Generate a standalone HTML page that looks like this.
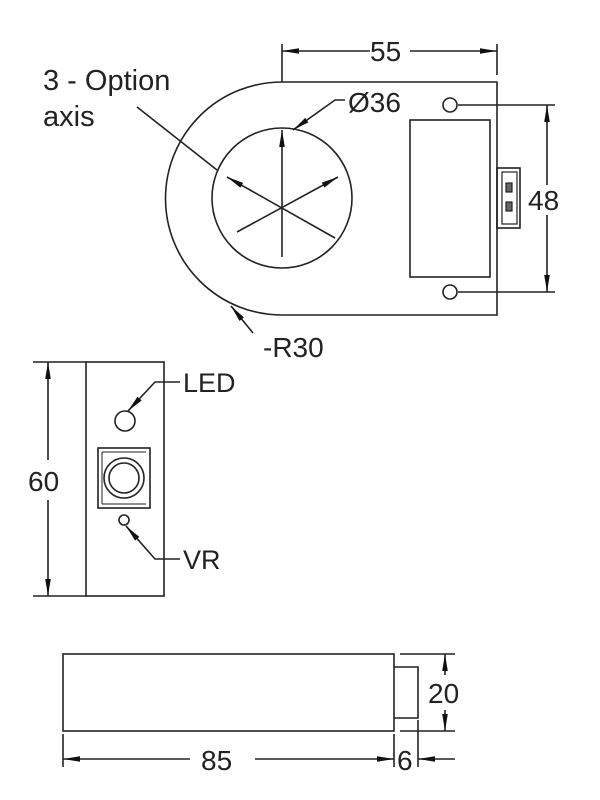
<!DOCTYPE html>
<html><head><meta charset="utf-8"><style>
html,body{margin:0;padding:0;background:#fff;}
svg{display:block;}
text{font-family:"Liberation Sans",Arial,sans-serif;fill:#222;}
</style></head><body>
<svg width="600" height="800" viewBox="0 0 600 800" xmlns="http://www.w3.org/2000/svg">
<defs>
<marker id="a" markerWidth="18" markerHeight="8" refX="17" refY="4" orient="auto" markerUnits="userSpaceOnUse">
<path d="M0,1.2 L17,4 L0,6.8 Z" fill="#111"/></marker>
</defs>
<g stroke="#222" stroke-width="1.6" fill="none">
<path d="M497,82 L282,82 A116.5,116.5 0 0 0 282,315 L497,315 Z"/>
<circle cx="282" cy="198" r="70"/>
<circle cx="450" cy="105" r="7"/>
<circle cx="450" cy="292" r="7"/>
<rect x="410" y="120" width="80" height="157"/>
<rect x="497" y="168" width="23" height="60"/>
<rect x="502" y="172" width="15" height="52" stroke-width="1.2"/>
<rect x="506" y="183" width="6" height="9" stroke-width="1.2" fill="#666"/>
<rect x="506" y="202" width="6" height="9" stroke-width="1.2" fill="#666"/>
<line x1="282" y1="257" x2="282" y2="130" marker-end="url(#a)"/>
<line x1="335" y1="238" x2="227" y2="177" marker-end="url(#a)"/>
<line x1="237" y1="232" x2="338" y2="177" marker-end="url(#a)"/>
<line x1="137" y1="107" x2="217" y2="170"/>
<line x1="282" y1="44" x2="282" y2="82"/>
<line x1="497" y1="44" x2="497" y2="75"/>
<line x1="370" y1="51" x2="282" y2="51" marker-end="url(#a)"/>
<line x1="410" y1="51" x2="497" y2="51" marker-end="url(#a)"/>
<line x1="458" y1="105" x2="555" y2="105"/>
<line x1="458" y1="292" x2="555" y2="292"/>
<line x1="547" y1="185" x2="547" y2="105" marker-end="url(#a)"/>
<line x1="547" y1="215" x2="547" y2="292" marker-end="url(#a)"/>
<polyline points="345,100 335,100 293,130" marker-end="url(#a)"/>
<line x1="253" y1="333" x2="231" y2="306" marker-end="url(#a)"/>
<rect x="86" y="362" width="78" height="234"/>
<line x1="33" y1="362" x2="86" y2="362"/>
<line x1="33" y1="596" x2="86" y2="596"/>
<line x1="48" y1="460" x2="48" y2="362" marker-end="url(#a)"/>
<line x1="48" y1="500" x2="48" y2="596" marker-end="url(#a)"/>
<circle cx="125" cy="421" r="10"/>
<polyline points="180,382 155,382 128,411" marker-end="url(#a)"/>
<rect x="98" y="448" width="52" height="60"/>
<line x1="102" y1="452" x2="146" y2="452" stroke-width="1"/>
<line x1="102" y1="452" x2="102" y2="504" stroke-width="1"/>
<line x1="102" y1="504" x2="146" y2="504" stroke-width="1"/>
<circle cx="124" cy="478" r="20"/>
<circle cx="124" cy="478" r="15"/>
<circle cx="124" cy="520" r="5"/>
<polyline points="180,559 155,559 126,526" marker-end="url(#a)"/>
<rect x="63" y="654" width="331" height="77"/>
<polyline points="394,667 418,667 418,718 394,718"/>
<line x1="400" y1="654" x2="455" y2="654"/>
<line x1="400" y1="731" x2="455" y2="731"/>
<line x1="445" y1="675" x2="445" y2="654" marker-end="url(#a)"/>
<line x1="445" y1="710" x2="445" y2="731" marker-end="url(#a)"/>
<line x1="63" y1="734" x2="63" y2="767"/>
<line x1="394" y1="734" x2="394" y2="767"/>
<line x1="418" y1="720" x2="418" y2="767"/>
<line x1="190" y1="759" x2="63" y2="759" marker-end="url(#a)"/>
<line x1="255" y1="759" x2="394" y2="759" marker-end="url(#a)"/>
<line x1="455" y1="759" x2="418" y2="759" marker-end="url(#a)"/>
</g>
<text x="43" y="90" font-size="29">3 - Option</text>
<text x="43" y="126" font-size="29">axis</text>
<text x="370" y="61" font-size="28">55</text>
<text x="348" y="112" font-size="28">Ø36</text>
<text x="528" y="210" font-size="28">48</text>
<text x="263" y="357" font-size="28">-R30</text>
<text x="183" y="392" font-size="27">LED</text>
<text x="28" y="491" font-size="28">60</text>
<text x="183" y="569" font-size="27">VR</text>
<text x="428" y="703" font-size="28">20</text>
<text x="201" y="770" font-size="28">85</text>
<text x="397" y="770" font-size="28">6</text>
</svg>
</body></html>
